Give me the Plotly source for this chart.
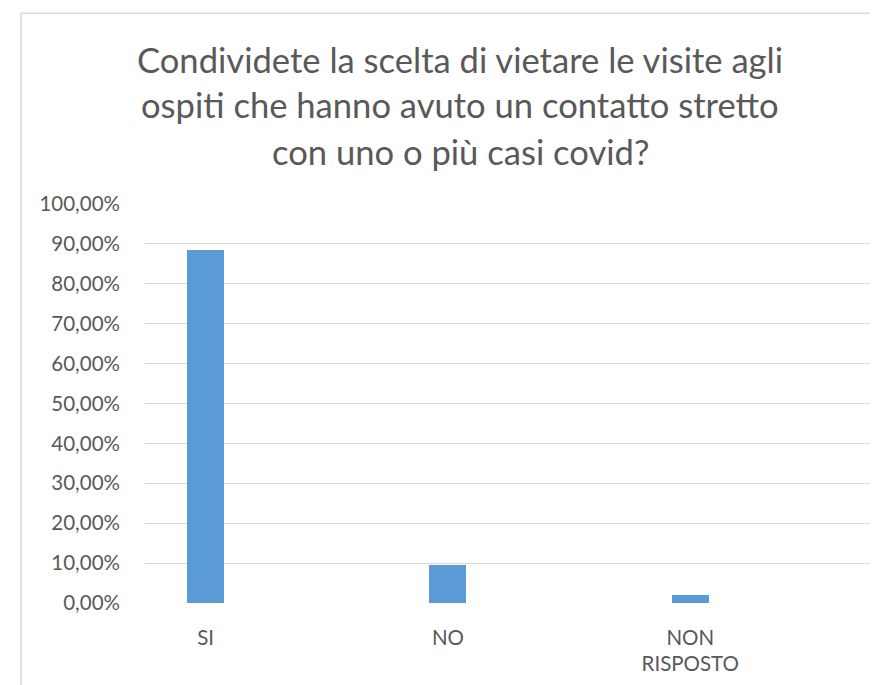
import plotly.graph_objects as go

categories = ["SI", "NO", "NON<br>RISPOSTO"]
values = [0.8846, 0.0962, 0.0192]
y_ticks = [0, 0.1, 0.2, 0.3, 0.4, 0.5, 0.6, 0.7, 0.8, 0.9, 1.0]
y_tick_labels = ["0,00%", "10,00%", "20,00%", "30,00%", "40,00%", "50,00%",
                 "60,00%", "70,00%", "80,00%", "90,00%", "100,00%"]
title_lines = ["Condividete la scelta di vietare le visite agli",
               "ospiti che hanno avuto un contatto stretto",
               "con uno o più casi covid?"]

W, H = 878, 685
OFF = 8  # page body margin
L, R = 145 - OFF, 872 - OFF
T, B = 203.5 - OFF, 603.5 - OFF
FONT = "Lato"
GREY = "#595959"

def px_x(x):
    return (x - OFF - L) / (R - L)

def px_y(y):
    return (B - (y - OFF)) / (B - T)

fig = go.Figure()
fig.add_trace(go.Bar(
    x=categories, y=values, width=0.153,
    marker=dict(color="#5b9bd5", line=dict(width=0)),
    hoverinfo="skip",
))

annotations = []
for line, yc in zip(title_lines, [59, 104, 151]):
    annotations.append(dict(
        text=line, xref="paper", yref="paper", x=px_x(460), y=px_y(yc),
        xanchor="center", yanchor="middle", showarrow=False,
        font=dict(family=FONT, size=34.6, color=GREY),
    ))

fig.update_layout(
    width=W, height=H,
    margin=dict(l=L, r=W - R, t=T, b=H - B, pad=0),
    paper_bgcolor="white", plot_bgcolor="white",
    showlegend=False,
    bargap=0,
    annotations=annotations,
    shapes=[dict(type="rect", xref="paper", yref="paper",
                 x0=px_x(21), x1=px_x(900), y0=px_y(12.3), y1=px_y(720),
                 line=dict(color="#d9d9d9", width=1.5), layer="below")],
    xaxis=dict(
        type="category", range=[-0.25, 2.75],
        showgrid=False, showline=False, zeroline=False, ticks="",
        tickfont=dict(family=FONT, size=20.5, color=GREY),
        ticklabelstandoff=20,
    ),
    yaxis=dict(
        range=[0, 1], tickvals=y_ticks, ticktext=y_tick_labels,
        showgrid=True, gridcolor="#d9d9d9", gridwidth=1.3,
        zeroline=False, showline=False, ticks="",
        tickfont=dict(family=FONT, size=20.5, color=GREY),
        ticklabelstandoff=24,
    ),
)

fig.write_html("out.html")
